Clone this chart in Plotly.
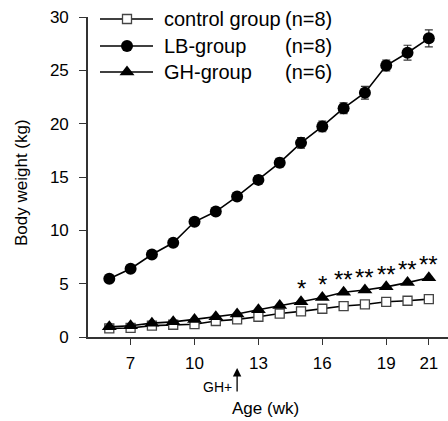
import plotly.graph_objects as go

weeks = [6, 7, 8, 9, 10, 11, 12, 13, 14, 15, 16, 17, 18, 19, 20, 21]
control = [0.8, 0.85, 1.07, 1.15, 1.2, 1.5, 1.65, 1.9, 2.2, 2.4, 2.65, 2.9, 3.05, 3.3, 3.4, 3.55]
lb = [5.46, 6.4, 7.73, 8.83, 10.8, 11.76, 13.18, 14.73, 16.34, 18.2, 19.74, 21.45, 22.9, 25.45, 26.65, 28.0]
lb_err = [0.2, 0.2, 0.25, 0.3, 0.3, 0.3, 0.3, 0.4, 0.4, 0.5, 0.5, 0.5, 0.6, 0.5, 0.7, 0.8]
gh = [0.95, 1.05, 1.3, 1.42, 1.65, 1.9, 2.15, 2.55, 2.96, 3.3, 3.7, 4.2, 4.4, 4.7, 5.1, 5.55]
sig_weeks = [15, 16, 17, 18, 19, 20, 21]
sig_marks = ["*", "*", "**", "**", "**", "**", "**"]
sig_y = [5.1, 5.5, 6.0, 6.15, 6.45, 6.85, 7.4]
x_ticks = [7, 10, 13, 16, 19, 21]
y_ticks = [0, 5, 10, 15, 20, 25, 30]

legend_names = ["control group", "LB-group", "GH-group"]
legend_n = ["(n=8)", "(n=8)", "(n=6)"]

FONT = "Liberation Sans, Arial, sans-serif"
W, H = 448, 421
ML, MR, MT, MB = 88, 0, 17, 84
PW, PH = W - ML - MR, H - MT - MB


def px_x(p):
    return (p - ML) / PW


def px_y(p):
    return (H - MB - p) / PH


fig = go.Figure()

fig.add_trace(go.Scatter(
    x=weeks, y=lb, mode="lines+markers",
    line=dict(color="black", width=1.6),
    marker=dict(symbol="circle", size=12, color="black"),
    error_y=dict(type="data", array=lb_err, color="#333333", thickness=1.2, width=4),
    showlegend=False, cliponaxis=False))
fig.add_trace(go.Scatter(
    x=weeks, y=control, mode="lines+markers",
    line=dict(color="black", width=1.6),
    marker=dict(symbol="square", size=9, color="white", line=dict(color="#444444", width=1.3)),
    showlegend=False, cliponaxis=False))
fig.add_trace(go.Scatter(
    x=weeks, y=gh, mode="lines+markers",
    line=dict(color="black", width=1.6),
    marker=dict(symbol="triangle-up", size=13, color="black"),
    showlegend=False, cliponaxis=False))

# custom legend on a pixel-coordinate overlay axis
leg_rows = [19, 46, 72]
leg_styles = [
    dict(symbol="square", size=9, color="white", line=dict(color="#444444", width=1.3)),
    dict(symbol="circle", size=12, color="black"),
    dict(symbol="triangle-up", size=13, color="black"),
]
for yy, st in zip(leg_rows, leg_styles):
    fig.add_trace(go.Scatter(x=[100, 153], y=[yy, yy], mode="lines",
                             line=dict(color="black", width=1.6), cliponaxis=False,
                             xaxis="x2", yaxis="y2", showlegend=False, hoverinfo="skip"))
    fig.add_trace(go.Scatter(x=[127], y=[yy], mode="markers", marker=st, cliponaxis=False,
                             xaxis="x2", yaxis="y2", showlegend=False, hoverinfo="skip"))

annotations = []
for yy, name, n in zip(leg_rows, legend_names, legend_n):
    annotations.append(dict(x=162, y=yy, xref="x2", yref="y2", text=name, showarrow=False,
                            xanchor="left", yanchor="middle", font=dict(size=20, color="black", family=FONT)))
    annotations.append(dict(x=283, y=yy, xref="x2", yref="y2", text=n, showarrow=False,
                            xanchor="left", yanchor="middle", font=dict(size=20, color="black", family=FONT)))

for wx, m, yv in zip(sig_weeks, sig_marks, sig_y):
    annotations.append(dict(x=wx, y=yv, xref="x", yref="y", text=m, showarrow=False,
                            xanchor="center", yanchor="middle", yshift=-6,
                            font=dict(size=24, color="black", family=FONT)))

# axis titles
annotations.append(dict(x=px_x(21), y=px_y(183), xref="paper", yref="paper", text="Body weight (kg)",
                        textangle=-90, showarrow=False, xanchor="center", yanchor="middle",
                        font=dict(size=17, color="black", family=FONT)))
annotations.append(dict(x=px_x(265), y=px_y(408), xref="paper", yref="paper", text="Age (wk)",
                        showarrow=False, xanchor="center", yanchor="middle",
                        font=dict(size=17, color="black", family=FONT)))
# GH+ arrow
annotations.append(dict(x=12, y=px_y(368), xref="x", yref="paper", ax=0, ay=25, axref="pixel", ayref="pixel",
                        text="", showarrow=True, arrowhead=2, arrowsize=1.3, arrowwidth=1.3,
                        arrowcolor="black", standoff=0))
annotations.append(dict(x=12, y=px_y(387), xref="x", yref="paper", text="GH+", showarrow=False,
                        xanchor="right", yanchor="middle", xshift=-3,
                        font=dict(size=14, color="black", family=FONT)))

fig.update_layout(
    width=W, height=H,
    margin=dict(l=ML, r=MR, t=MT, b=MB, pad=0),
    paper_bgcolor="white", plot_bgcolor="white",
    font=dict(family=FONT, color="black"),
    xaxis=dict(range=[5, 21.9], tickvals=x_ticks, ticktext=[str(t) for t in x_ticks],
               showgrid=False, zeroline=False, showline=True, linecolor="#333333", linewidth=1.6,
               ticks="outside", ticklen=6, tickwidth=1.4, tickcolor="#333333", ticklabelstandoff=4,
               tickfont=dict(size=17, color="black", family=FONT)),
    yaxis=dict(range=[0, 30], tickvals=y_ticks, showgrid=False, zeroline=False,
               showline=True, linecolor="#333333", linewidth=1.6,
               ticks="outside", ticklen=7, tickwidth=1.4, tickcolor="#333333", ticklabelstandoff=7,
               tickfont=dict(size=17, color="black", family=FONT)),
    xaxis2=dict(range=[ML, W - MR], overlaying="x", visible=False, fixedrange=True),
    yaxis2=dict(range=[H - MB, MT], overlaying="y", visible=False, fixedrange=True),
    annotations=annotations,
    showlegend=False,
)

fig.write_html("out.html")
